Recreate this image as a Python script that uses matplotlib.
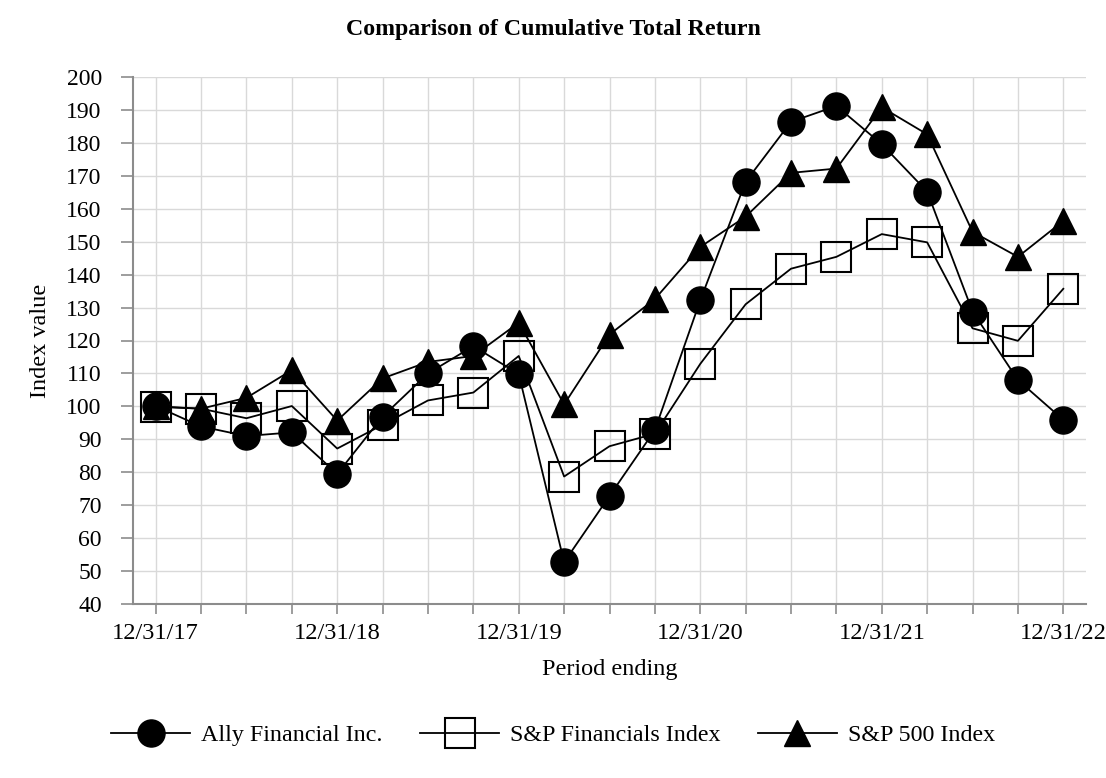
import matplotlib
matplotlib.use("Agg")
import matplotlib.pyplot as plt

periods = list(range(21))
tick_labels = ["12/31/17", "", "", "", "12/31/18", "", "", "", "12/31/19", "", "", "",
               "12/31/20", "", "", "", "12/31/21", "", "", "", "12/31/22"]

ally = [100.1, 93.9, 91.0, 92.1, 79.5, 96.9, 110.0, 118.3, 109.8, 52.7, 72.8, 92.8,
        132.2, 168.2, 186.4, 191.2, 179.6, 165.2, 128.8, 108.0, 95.9]
sp_fin = [99.9, 99.3, 96.4, 100.1, 87.2, 94.4, 101.8, 104.2, 115.3, 78.7, 87.9, 91.7,
          112.9, 131.0, 141.8, 145.4, 152.3, 149.8, 123.7, 119.9, 135.7]
sp500 = [100.0, 99.3, 102.6, 111.0, 95.7, 108.5, 113.5, 115.3, 125.4, 100.6, 121.8, 132.6,
         148.4, 157.6, 170.9, 172.2, 190.8, 182.6, 153.0, 145.4, 156.3]

plt.rcParams['font.family'] = ['Liberation Serif', 'DejaVu Serif']

fig = plt.figure(figsize=(11.06, 7.78), dpi=100)
ax = fig.add_axes([133/1106, 1-604/778, (1086-133)/1106, (604-77)/778])

lw = 1.3
ax.plot(periods, sp500, color='black', lw=lw, marker='^', markersize=19,
        markerfacecolor='black', markeredgecolor='black', label='S&P 500 Index', zorder=3)
ax.plot(periods, sp_fin, color='black', lw=lw, marker='s', markersize=21,
        markerfacecolor='none', markeredgecolor='black', markeredgewidth=1.5,
        label='S&P Financials Index', zorder=4)
ax.plot(periods, ally, color='black', lw=lw, marker='o', markersize=19.5,
        markerfacecolor='black', markeredgecolor='black', label='Ally Financial Inc.', zorder=5)

ax.set_xlim(-0.5, 20.5)
ax.set_ylim(40, 200)
ax.set_yticks(range(40, 201, 10))
ax.set_xticks(periods)
ax.set_xticklabels(tick_labels)

ax.grid(True, color='#d9d9d9', lw=1.0, zorder=0)
ax.set_axisbelow(True)
for s in ['top', 'right']:
    ax.spines[s].set_visible(False)
for s in ['left', 'bottom']:
    ax.spines[s].set_color('#8c8c8c')
    ax.spines[s].set_linewidth(1.5)

ax.tick_params(axis='y', direction='out', length=8.5, width=1.2, color='#8c8c8c',
               labelsize=17, pad=14)
ax.tick_params(axis='x', direction='out', length=7.5, width=1.2, color='#8c8c8c',
               labelsize=17.6, pad=6)

ax.set_xlabel('Period ending', fontsize=17.5)
ax.xaxis.set_label_coords(0.5, -0.104)
ax.set_ylabel('Index value', fontsize=17.5)
ax.yaxis.set_label_coords(-0.086, 0.5)

fig.text(0.5, 1-30/778, 'Comparison of Cumulative Total Return', ha='center', va='center',
         fontsize=17.2, fontweight='bold')

handles, labels = ax.get_legend_handles_labels()
order = [2, 1, 0]
fig.legend([handles[i] for i in order], [labels[i] for i in order],
           loc='center', bbox_to_anchor=(0.5, 1-735/778), ncol=3, frameon=False,
           fontsize=17.3, handlelength=3.3, handletextpad=0.45, columnspacing=1.55,
           markerscale=1.0)

fig.savefig('out.png', dpi=100)
